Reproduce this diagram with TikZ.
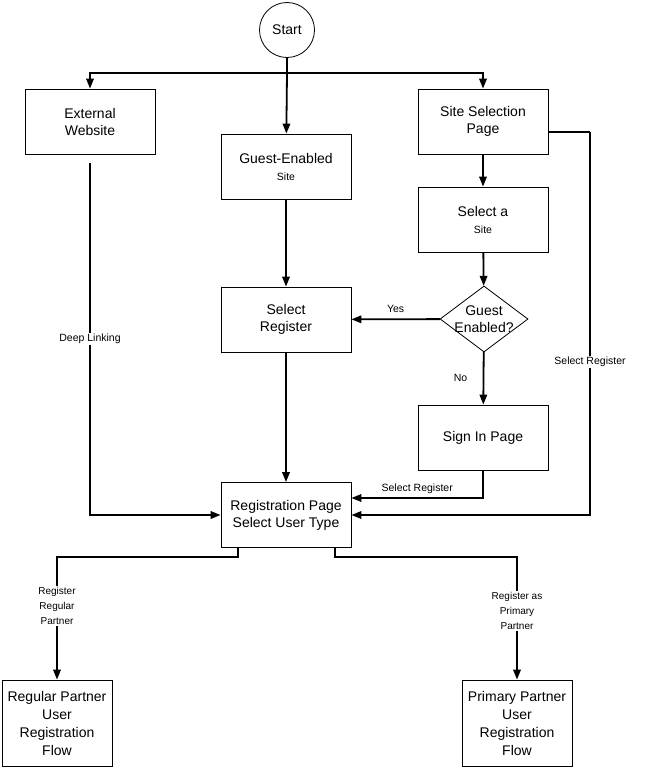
\documentclass[tikz,border=0pt]{standalone}
\usepackage{fontspec}
\setmainfont{Liberation Sans}
\usetikzlibrary{arrows.meta,shapes.geometric}

\begin{document}
\begin{tikzpicture}[x=1pt, y=-1pt,
    box/.style={draw, line width=0.8pt, minimum width=130, minimum height=65,
                align=center, font=\fontsize{14}{17}\selectfont},
    endbox/.style={box, minimum width=110, minimum height=86,
                   font=\fontsize{14}{18}\selectfont},
    flow/.style={line width=1.8pt, -{Triangle[length=10pt,width=7.5pt]}},
    lbl/.style={fill=white, inner sep=1pt, align=center,
                font=\fontsize{10.5}{15}\selectfont},
    small/.style={font=\fontsize{10.5}{15}\selectfont}]
    \useasboundingbox (0,0) rectangle (650,768);
    % nodes
    \node[draw, circle, line width=0.8pt, minimum size=55, inner sep=0,
          font=\fontsize{14}{17}\selectfont] (start) at (287,30) {Start};
    \node[box] (ext) at (90,121.5) {External\\Website};
    \node[box] (sitesel) at (483,121.5) {Site Selection\\Page};
    \node[box] (guest) at (286,166.5) {Guest-Enabled\\{\fontsize{10.5}{12}\selectfont Site}};
    \node[box] (selsite) at (483,219.5) {Select a\\{\fontsize{10.5}{12}\selectfont Site}};
    \node[box] (selreg) at (286,319.5) {Select\\Register};
    \node[draw, diamond, line width=0.8pt, inner sep=0, minimum width=88,
          minimum height=66] (guestq) at (484,319) {};
    \node[align=center, font=\fontsize{14}{17}\selectfont] at (guestq) {Guest\\Enabled?};
    \node[box] (signin) at (483,437.5) {Sign In Page};
    \node[box] (reg) at (286,515) {Registration Page\\Select User Type};
    \node[endbox] (regular) at (57,723) {Regular Partner\\User\\Registration\\Flow};
    \node[endbox] (primary) at (517,723) {Primary Partner\\User\\Registration\\Flow};
    \coordinate (bus) at (287,73);
    \coordinate (rt) at (590,132);
    % connectors
    \draw[line width=1.8pt] (start) -- (bus);
    \draw[flow] (bus) -| (ext);
    \draw[flow] (bus) -| (sitesel);
    \draw[flow] (bus) -- (guest);
    \draw[flow] ([yshift=-9pt]ext.south) |- (reg)
        node[lbl, pos=0.25] {Deep Linking};
    \draw[flow] (guest) -- (selreg);
    \draw[flow] (selreg) -- (reg);
    \draw[flow] (sitesel) -- (selsite);
    \draw[flow] (selsite) -- (guestq);
    \draw[flow] (guestq) -- (selreg) node[small, midway, above=2pt] {Yes};
    \draw[flow] (guestq) -- (signin) node[small, midway, left=12pt] {No};
    \draw[flow] (signin) |- ([yshift=17pt]reg.east)
        node[small, pos=0.75, above] {Select Register};
    \draw[line width=1.8pt] ([yshift=-10.5pt]sitesel.east) -- (rt);
    \draw[flow] (rt) |- (reg) node[lbl, pos=0.3] {Select Register};
    \draw[flow] ([xshift=-48pt]reg.south) -- ++(0,9) -| (regular)
        node[lbl, pos=0.7, font=\fontsize{10}{15}\selectfont] {Register\\Regular\\Partner};
    \draw[flow] ([xshift=49pt]reg.south) -- ++(0,9) -| (primary)
        node[lbl, pos=0.72, font=\fontsize{10}{15}\selectfont] {Register as\\Primary\\Partner};
\end{tikzpicture}
\end{document}
